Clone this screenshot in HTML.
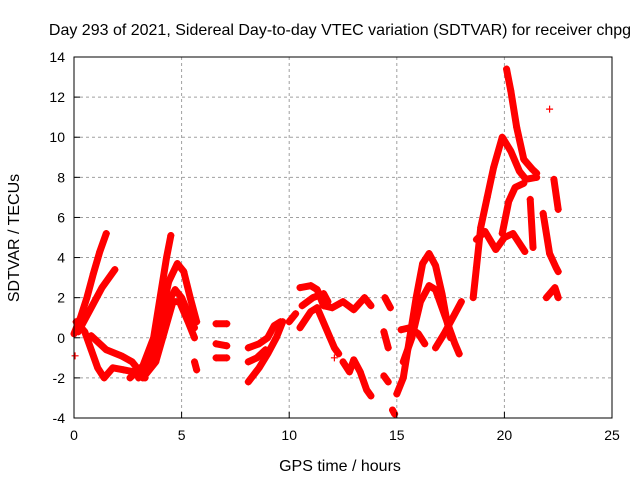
<!DOCTYPE html>
<html><head><meta charset="utf-8"><style>
body{margin:0;background:#fff}
svg{display:block;font-family:"Liberation Sans",sans-serif}
</style></head><body>
<svg id="chart" width="640" height="480" viewBox="0 0 640 480">
<rect width="640" height="480" fill="#fff"/>
<text x="340" y="35" font-size="16" text-anchor="middle">Day 293 of 2021, Sidereal Day-to-day VTEC variation (SDTVAR) for receiver chpg</text>
<text x="340" y="471" font-size="16" text-anchor="middle">GPS time / hours</text>
<text transform="translate(19,238) rotate(-90)" font-size="16" text-anchor="middle">SDTVAR / TECUs</text>
<g id="grid"></g>
<g id="marks"></g>
<g id="axes"></g>
</svg>
<script>
const xTicks=[0,5,10,15,20,25];
const yTicks=[-4,-2,0,2,4,6,8,10,12,14];
const t1=[[0,0.2],[0.3,1],[0.6,2],[0.9,3.2],[1.2,4.3],[1.5,5.2]];
const t2=[[0.2,0.3],[0.8,1.5],[1.3,2.5],[1.9,3.4]];
const t3=[[0.1,0.8],[0.5,0.3],[0.8,-0.6],[1.1,-1.5],[1.4,-2.0],[1.8,-1.5],[2.3,-1.6],[2.8,-1.7],[3.2,-1.9]];
const t4=[[0.8,0.1],[1.5,-0.6],[2.2,-0.9],[2.7,-1.2],[3.0,-1.6],[3.3,-2.0]];
const t5=[[2.6,-2.0],[3.2,-1.4],[3.7,0],[4.0,2],[4.3,4],[4.5,5.1]];
const t6=[[3.0,-2.0],[3.6,-0.8],[4.0,0.8],[4.4,2.8],[4.8,3.7],[5.1,3.3],[5.4,2.0],[5.7,0.8]];
const t7=[[2.8,-1.8],[3.5,-1.2],[4.0,0],[4.4,1.8],[4.7,2.4],[5.0,2.0],[5.4,1.0],[5.6,0.5]];
const t8=[[3.2,-2.0],[3.8,-1.2],[4.2,0.3],[4.6,1.8],[4.9,1.8],[5.3,0.8],[5.6,0]];
const t9=[[5.6,-1.2],[5.7,-1.6]];
const t10=[[6.6,0.7],[7.1,0.7]];
const t11=[[6.6,-0.3],[7.1,-0.4]];
const t12=[[6.6,-1.0],[7.1,-1.0]];
const t13=[[8.1,-2.2],[8.6,-1.5],[9.0,-0.8],[9.4,0],[9.7,0.8]];
const t14=[[8.1,-0.5],[8.6,-0.3],[9.0,0.0],[9.3,0.6],[9.6,0.8]];
const t15=[[8.1,-1.2],[8.5,-1.0],[8.9,-0.6]];
const t16=[[10.0,0.8],[10.3,1.2]];
const t17=[[10.5,2.5],[11.0,2.6],[11.3,2.4],[11.6,1.6],[12.0,1.5],[12.5,1.8],[13.0,1.4],[13.5,2.0],[13.8,1.6]];
const t18=[[10.5,0.5],[11.0,1.3],[11.3,1.5],[11.7,0.5],[12.1,-0.5],[12.3,-0.8]];
const t19=[[10.6,1.6],[11.1,2.0],[11.6,2.2],[11.8,1.8]];
const t20=[[12.5,-1.2],[12.8,-1.7],[13.0,-1.1],[13.3,-1.7],[13.6,-2.6],[13.8,-2.9]];
const t21=[[14.45,2.0],[14.7,1.5]];
const t22=[[14.4,0.3],[14.6,-0.5]];
const t23=[[14.4,-1.9],[14.6,-2.2]];
const t24=[[14.8,-3.6],[14.9,-3.8]];
const t25=[[15.0,-2.8],[15.3,-2.0],[15.6,0],[15.9,2],[16.2,3.7],[16.5,4.2],[16.8,3.6],[17.1,2.2],[17.3,1.0],[17.5,0]];
const t26=[[15.3,-1.2],[15.7,0],[16.1,1.8],[16.5,2.6],[16.8,2.4],[17.1,1.5],[17.4,0.6],[17.7,-0.3],[17.9,-0.8]];
const t27=[[15.2,0.4],[15.6,0.5],[16.0,0.2],[16.3,-0.3]];
const t28=[[16.8,-0.5],[17.2,0.2],[17.6,1.0],[18.0,1.8]];
const t29=[[18.55,2.0],[18.7,3.5],[18.9,5.5],[19.2,7.0],[19.5,8.5],[19.9,10.0],[20.3,9.3],[20.7,8.3],[21.0,7.9],[21.5,8.0]];
const t30=[[20.1,13.4],[20.3,12.3],[20.57,10.5],[20.9,8.9],[21.3,8.4],[21.5,8.2]];
const t31=[[18.7,4.9],[19.1,5.3],[19.6,4.4],[20.0,5.0],[20.4,5.2],[20.95,4.3]];
const t32=[[19.9,5.2],[20.2,6.8],[20.5,7.5],[20.9,7.7]];
const t33=[[21.2,6.9],[21.33,4.5]];
const t34=[[21.8,6.2],[22.1,4.2],[22.4,3.5],[22.5,3.3]];
const t35=[[22.3,7.9],[22.5,6.4]];
const t36=[[21.95,2.0],[22.35,2.5],[22.5,2.0]];
const t37=[[22.1,11.4]];
const t38=[[0.05,-0.9]];
const t39=[[12.1,-1.0]];
const series=[t1,t2,t3,t4,t5,t6,t7,t8,t9,t10,t11,t12,t13,t14,t15,t16,t17,t18,t19,t20,t21,t22,t23,t24,t25,t26,t27,t28,t29,t30,t31,t32,t33,t34,t35,t36,t37,t38,t39];
const NS="http://www.w3.org/2000/svg";
const L=74,R=612,T=57,B=418;
const sx=h=>L+(h-0)/(25-0)*(R-L);
const sy=v=>B-(v+4)/(14+4)*(B-T);
function mk(tag,attrs,parent){const e=document.createElementNS(NS,tag);for(const k in attrs)e.setAttribute(k,attrs[k]);parent.appendChild(e);return e;}
const grid=document.getElementById('grid'),axes=document.getElementById('axes'),marks=document.getElementById('marks');
xTicks.forEach(t=>{
  if(t>0&&t<25){const g=mk('line',{x1:sx(t),x2:sx(t),y1:T,y2:B,stroke:'#a0a0a0','stroke-dasharray':'3,3'},grid);
  
  }
  const tk=mk('line',{x1:sx(t),x2:sx(t),y1:B,y2:B-6,stroke:'#000'},axes);
  
  
  const tx=mk('text',{x:sx(t),y:B+22,'font-size':14,'text-anchor':'middle'},axes);tx.textContent=t;
  
  
});
yTicks.forEach(t=>{
  if(t>-4&&t<14){const g=mk('line',{x1:L,x2:R,y1:sy(t),y2:sy(t),stroke:'#a0a0a0','stroke-dasharray':'3,3'},grid);
  
  }
  const tk=mk('line',{x1:L,x2:L+6,y1:sy(t),y2:sy(t),stroke:'#000'},axes);
  
  
  const tx=mk('text',{x:L-9,y:sy(t)+5,'font-size':14,'text-anchor':'end'},axes);tx.textContent=t;
  
  
});
const fr=mk('rect',{x:L,y:T,width:R-L,height:B-T,fill:'none',stroke:'#000','stroke-width':1},axes);


series.forEach(s=>{
  if(s.length>1){const p=mk('polyline',{points:s.map(d=>sx(d[0])+','+sy(d[1])).join(' '),fill:'none',stroke:'#f00','stroke-width':7,'stroke-linejoin':'round','stroke-linecap':'round'},marks);
  
  }
  s.forEach(d=>{const x=sx(d[0]),y=sy(d[1]);
    const m=mk('path',{d:`M${x-3.5},${y}h7M${x},${y-3.5}v7`,stroke:'#f00','stroke-width':1.2},marks);
    
    });
});
</script>
</body></html>
